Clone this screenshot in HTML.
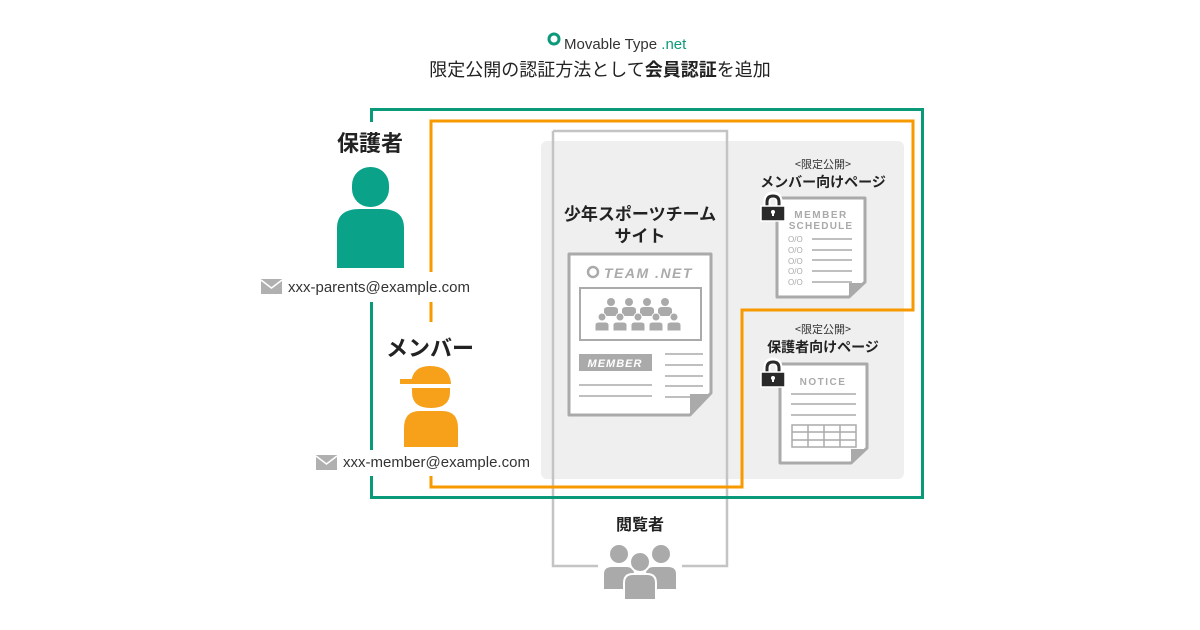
<!DOCTYPE html>
<html><head><meta charset="utf-8"><style>
html,body{margin:0;padding:0;background:#fff;}
svg{display:block}
text{font-family:"Liberation Sans","Noto Sans CJK JP",sans-serif;}
.jp{font-family:"Noto Sans CJK JP",sans-serif;}
</style></head><body>
<svg width="1200" height="630" viewBox="0 0 1200 630" xmlns="http://www.w3.org/2000/svg">
<defs>
<g id="p"><circle cx="0" cy="0" r="4"/><path d="M-7,14 V8 Q-7,5 -3,5 H3 Q7,5 7,8 V14 Z"/></g>
<g id="lock"><path d="M767,207 V202 Q767,195 773,195 Q779,195 779,202 V207" fill="none" stroke="#fff" stroke-width="7"/><path d="M767,207 V202 Q767,196 773,196 Q779,196 779,202 V207" fill="none" stroke="#2a2a2a" stroke-width="3"/><rect x="761" y="206" width="24" height="15" fill="#2a2a2a" stroke="#fff" stroke-width="1.5"/><circle cx="773" cy="212" r="2" fill="#fff"/><rect x="772" y="212" width="2" height="4" fill="#fff"/></g>
</defs>
<rect width="1200" height="630" fill="#fff"/>
<!-- header -->
<circle cx="554" cy="39" r="5" fill="none" stroke="#0a9a7a" stroke-width="3"/>
<text x="564" y="49" font-size="15" fill="#333">Movable Type <tspan fill="#0a9a7a">.net</tspan></text>
<text x="600" y="76" font-size="18" fill="#222" text-anchor="middle" class="jp">限定公開の認証方法として<tspan font-weight="bold">会員認証</tspan>を追加</text>

<!-- grey panel -->
<rect x="541" y="141" width="363" height="338" rx="6" fill="#efefef"/>
<!-- viewer frame -->
<path d="M553,131 H727 V566 H682 M598,566 H553 V131" fill="none" stroke="#c4c4c4" stroke-width="2.5"/>
<!-- green frame -->
<rect x="371.5" y="109.5" width="551" height="388" fill="none" stroke="#0a9a7a" stroke-width="3"/>
<!-- orange path -->
<path d="M431,487 V121 H913 V310 H742 V487 Z" fill="none" stroke="#f79a00" stroke-width="3"/>

<!-- parent -->
<rect x="330" y="122" width="80" height="150" fill="#fff"/>
<text x="370" y="151" font-size="22" font-weight="bold" fill="#222" text-anchor="middle" class="jp">保護者</text>
<rect x="352" y="167" width="37" height="40" rx="18" fill="#0aa38a"/>
<path d="M337,268 V228 Q337,209 360,209 H381 Q404,209 404,228 V268 Z" fill="#0aa38a"/>
<rect x="258" y="272" width="215" height="30" fill="#fff"/>
<rect x="261" y="279" width="21" height="15" fill="#b0b0b0"/>
<path d="M261,280 L271.5,288 L282,280" fill="none" stroke="#fff" stroke-width="1.5"/>
<text x="288" y="292" font-size="15" fill="#333">xxx-parents@example.com</text>

<!-- member -->
<rect x="385" y="322" width="92" height="128" fill="#fff"/>
<text x="430" y="356" font-size="22" font-weight="bold" fill="#222" text-anchor="middle" class="jp">メンバー</text>
<path d="M411,384 Q412,366 430,366 Q450,366 451,384 Z M400,379 H412 V384 H400 Z" fill="#f7a01a"/>
<path d="M412,388 H450 V392 Q450,408 431,408 Q412,408 412,392 Z" fill="#f7a01a"/>
<path d="M404,447 V428 Q404,411 420,411 H442 Q458,411 458,428 V447 Z" fill="#f7a01a"/>
<rect x="313" y="450" width="220" height="26" fill="#fff"/>
<rect x="316" y="455" width="21" height="15" fill="#b0b0b0"/>
<path d="M316,456 L326.5,464 L337,456" fill="none" stroke="#fff" stroke-width="1.5"/>
<text x="343" y="467" font-size="15" fill="#333">xxx-member@example.com</text>

<!-- site title -->
<text x="640" y="220" font-size="17" font-weight="bold" fill="#222" text-anchor="middle" class="jp">少年スポーツチーム</text>
<text x="640" y="242" font-size="17" font-weight="bold" fill="#222" text-anchor="middle" class="jp">サイト</text>
<!-- site doc -->
<path d="M569,254 H711 V393 L690,415 H569 Z" fill="#fff" stroke="#aaa" stroke-width="3" stroke-linejoin="round"/>
<path d="M690,415 V394 H711 Z" fill="#aaa"/>
<circle cx="593" cy="272" r="5" fill="none" stroke="#aaa" stroke-width="2.5"/>
<text x="604" y="278" font-size="14" font-weight="bold" font-style="italic" fill="#aaa" letter-spacing="1.5">TEAM .NET</text>
<rect x="580" y="288" width="121" height="52" fill="none" stroke="#aaa" stroke-width="2"/>
<g fill="#aaa">
<use href="#p" x="611" y="302"/><use href="#p" x="629" y="302"/><use href="#p" x="647" y="302"/><use href="#p" x="665" y="302"/>
</g>
<g fill="#aaa" stroke="#fff" stroke-width="1">
<use href="#p" x="602" y="317"/><use href="#p" x="620" y="317"/><use href="#p" x="638" y="317"/><use href="#p" x="656" y="317"/><use href="#p" x="674" y="317"/>
</g>
<rect x="579" y="354" width="73" height="17" fill="#aaa"/>
<text x="615" y="367" font-size="11" font-weight="bold" font-style="italic" fill="#fff" text-anchor="middle" letter-spacing="1">MEMBER</text>
<g stroke="#aaa" stroke-width="1.5">
<line x1="579" y1="385" x2="652" y2="385"/><line x1="579" y1="396" x2="652" y2="396"/>
<line x1="665" y1="354" x2="703" y2="354"/><line x1="665" y1="365" x2="703" y2="365"/><line x1="665" y1="376" x2="703" y2="376"/><line x1="665" y1="386" x2="703" y2="386"/><line x1="665" y1="397" x2="703" y2="397"/>
</g>

<!-- member page -->
<text x="823" y="168" font-size="11" fill="#333" text-anchor="middle" class="jp">&lt;限定公開&gt;</text>
<text x="823" y="187" font-size="14" font-weight="bold" fill="#222" text-anchor="middle" class="jp">メンバー向けページ</text>
<path d="M777,198 H865 V282 L849,297 H777 Z" fill="#fff" stroke="#aaa" stroke-width="3" stroke-linejoin="round"/>
<path d="M849,297 V283 H865 Z" fill="#aaa"/>
<text x="821" y="218" font-size="10" font-weight="bold" fill="#aaa" text-anchor="middle" letter-spacing="1.5">MEMBER</text>
<text x="821" y="229" font-size="10" font-weight="bold" fill="#aaa" text-anchor="middle" letter-spacing="1.2">SCHEDULE</text>
<g font-size="8" fill="#aaa"><text x="788" y="242">O/O</text><text x="788" y="253">O/O</text><text x="788" y="264">O/O</text><text x="788" y="274">O/O</text><text x="788" y="285">O/O</text></g>
<g stroke="#aaa" stroke-width="1.5"><line x1="812" y1="239" x2="852" y2="239"/><line x1="812" y1="250" x2="852" y2="250"/><line x1="812" y1="260" x2="852" y2="260"/><line x1="812" y1="271" x2="852" y2="271"/><line x1="812" y1="282" x2="852" y2="282"/></g>
<use href="#lock"/>

<!-- notice page -->
<text x="823" y="333" font-size="11" fill="#333" text-anchor="middle" class="jp">&lt;限定公開&gt;</text>
<text x="823" y="352" font-size="14" font-weight="bold" fill="#222" text-anchor="middle" class="jp">保護者向けページ</text>
<path d="M780,364 H867 V448 L851,463 H780 Z" fill="#fff" stroke="#aaa" stroke-width="3" stroke-linejoin="round"/>
<path d="M851,463 V449 H867 Z" fill="#aaa"/>
<text x="823" y="385" font-size="10" font-weight="bold" fill="#aaa" text-anchor="middle" letter-spacing="1.5">NOTICE</text>
<g stroke="#aaa" stroke-width="1.5"><line x1="791" y1="394" x2="856" y2="394"/><line x1="791" y1="404" x2="856" y2="404"/><line x1="791" y1="415" x2="856" y2="415"/>
<rect x="792" y="425" width="64" height="22" fill="none"/><line x1="792" y1="432" x2="856" y2="432"/><line x1="792" y1="440" x2="856" y2="440"/><line x1="808" y1="425" x2="808" y2="447"/><line x1="824" y1="425" x2="824" y2="447"/><line x1="840" y1="425" x2="840" y2="447"/></g>
<use href="#lock" y="166"/>

<!-- viewers -->
<text x="640" y="530" font-size="16" font-weight="bold" fill="#222" text-anchor="middle" class="jp">閲覧者</text>
<g fill="#aaa" stroke="#fff" stroke-width="2">
<circle cx="619" cy="554" r="10"/><path d="M603,590 V574 Q603,566 612,566 H626 Q635,566 635,574 V590 Z"/>
<circle cx="661" cy="554" r="10"/><path d="M645,590 V574 Q645,566 654,566 H668 Q677,566 677,574 V590 Z"/>
<circle cx="640" cy="562" r="10"/><path d="M624,600 V583 Q624,574 633,574 H647 Q656,574 656,583 V600 Z"/>
</g>
</svg>
</body></html>
